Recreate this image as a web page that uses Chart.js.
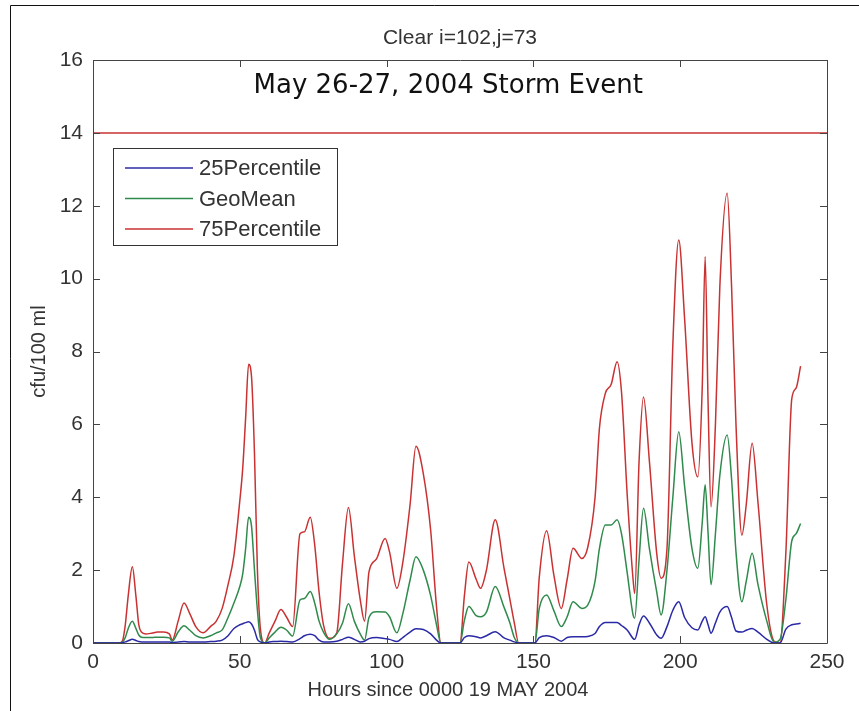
<!DOCTYPE html>
<html>
<head>
<meta charset="utf-8">
<script src="https://cdn.jsdelivr.net/npm/chart.js@4"></script>
<style>
  html, body { margin: 0; padding: 0; background: #fff; }
  canvas { display: block; }
</style>
</head>
<body>
<canvas id="myChart" width="859" height="711"></canvas>
<script>
// hours since 0000 19 MAY 2004
const hours = [
  0, 9, 10, 11, 12, 13.4, 14.6, 15.6, 16.5, 18,
  20, 22, 24, 26, 27, 29, 31, 33, 35, 37.5,
  40, 42, 44, 46, 48, 50, 51, 52, 53, 54,
  55, 56, 57, 58.5, 60, 62, 64, 66, 68, 70.5,
  72, 74, 75.5, 77, 78.5, 80.5, 83, 85, 87, 89,
  91, 92.5, 94, 96.5, 99.5, 101, 103.5, 105.5, 108, 110,
  112.5, 115, 117, 118.5, 125, 126.5, 128, 130.5, 132, 134,
  137, 140, 142, 143.5, 145, 150.5, 152, 154.5, 157, 159.5,
  161.5, 163.5, 166.5, 168.5, 171, 172.5, 174.5, 176.5, 178.5, 180,
  182, 184, 184.5, 186, 187.5, 189.5, 192, 193.5, 195.5, 197.5,
  199.5, 201.5, 204, 206, 207.5, 208.5, 209.5, 210.5, 212, 213.5,
  216, 217.5, 219, 221, 222.5, 224.5, 226.5, 229.5, 232, 234,
  236, 238, 239.5, 241
];

const p25 = [
  0, 0, 0.01, 0.03, 0.06, 0.1, 0.07, 0.04, 0.03, 0.03,
  0.03, 0.03, 0.03, 0.03, 0.01, 0.03, 0.04, 0.03, 0.03, 0.03,
  0.04, 0.05, 0.08, 0.2, 0.4, 0.5, 0.53, 0.56, 0.58, 0.52,
  0.35, 0.1, 0.03, 0, 0.03, 0.04, 0.05, 0.04, 0.03, 0.12,
  0.2, 0.24, 0.2, 0.08, 0.03, 0.03, 0.05, 0.1, 0.16, 0.1,
  0.03, 0.05, 0.12, 0.15, 0.12, 0.1, 0.04, 0.15, 0.3, 0.39,
  0.37, 0.25, 0.08, 0, 0, 0.15, 0.2, 0.17, 0.14, 0.2,
  0.31, 0.14, 0.08, 0.03, 0, 0, 0.15, 0.2, 0.15, 0.05,
  0.15, 0.17, 0.17, 0.18, 0.26, 0.45, 0.56, 0.56, 0.56, 0.48,
  0.35, 0.12, 0.1, 0.5, 0.74, 0.55, 0.22, 0.13, 0.45, 0.9,
  1.13, 0.7, 0.42, 0.36, 0.6, 0.72, 0.5, 0.27, 0.55, 0.85,
  1.0, 0.7, 0.33, 0.3, 0.35, 0.4, 0.3, 0.1, 0, 0,
  0.38, 0.5, 0.52, 0.54
];

const geoMean = [
  0, 0, 0.02, 0.15, 0.4, 0.6, 0.4, 0.22, 0.16, 0.15,
  0.15, 0.16, 0.16, 0.14, 0.05, 0.3, 0.47, 0.35, 0.2, 0.14,
  0.2, 0.28, 0.36, 0.7, 1.1, 1.55, 1.9, 2.6, 3.45, 3.2,
  2.0, 0.9, 0.15, 0, 0.14, 0.3, 0.43, 0.35, 0.19, 1.18,
  1.22, 1.41, 1.1, 0.6, 0.3, 0.1, 0.25, 0.55, 1.08, 0.6,
  0.25, 0.08, 0.7, 0.86, 0.85, 0.72, 0.28, 0.8, 1.73, 2.37,
  2.0, 1.3, 0.5, 0, 0, 0.62, 1.0, 0.75, 0.72, 0.85,
  1.55, 0.98, 0.55, 0.15, 0, 0, 0.95, 1.32, 0.88, 0.45,
  0.72, 1.13, 0.95, 1.04, 1.7, 2.6, 3.24, 3.24, 3.38, 3.0,
  1.9, 0.75, 0.68, 2.3, 3.7, 2.6, 1.4, 0.77, 2.0, 4.0,
  5.8, 4.3, 2.6, 2.05, 3.3, 4.34, 3.0, 1.6, 3.0, 4.6,
  5.71, 4.5, 2.5, 1.13, 1.7, 2.46, 1.6, 0.6, 0.02, 0.1,
  1.2, 2.8, 3.0, 3.28
];

const p75 = [
  0, 0, 0.05, 0.5, 1.3, 2.09, 1.3, 0.5, 0.3, 0.25,
  0.27, 0.3, 0.3, 0.25, 0.08, 0.6, 1.1, 0.8, 0.45, 0.28,
  0.45, 0.6, 0.95, 1.6, 2.4, 3.9, 4.8, 6.2, 7.65, 7.3,
  5.2, 2.0, 0.4, 0, 0.27, 0.6, 0.92, 0.7, 0.45, 3.0,
  3.05, 3.45, 2.7, 1.4, 0.5, 0.13, 0.27, 2.2, 3.72, 2.4,
  1.2, 0.6, 1.95, 2.3, 2.87, 2.5, 1.5, 2.2, 3.8, 5.4,
  4.65, 3.1, 1.0, 0, 0, 1.3, 2.22, 1.75, 1.5, 2.0,
  3.38, 2.05, 1.2, 0.55, 0, 0, 1.8, 3.08, 1.85, 0.95,
  1.75, 2.6, 2.32, 2.62, 4.0, 5.9, 6.85, 7.1, 7.72, 6.9,
  4.0, 1.7, 1.36, 5.0, 6.75, 5.0, 2.46, 1.78, 2.6, 8.2,
  11.06, 8.9, 5.5, 4.56, 7.0, 10.6, 6.58, 3.74, 6.0, 9.78,
  12.34, 9.78, 6.0, 2.96, 3.8, 5.48, 3.85, 1.05, 0.05, 0,
  2.5, 6.7, 7.0, 7.6
];

// standard line across the plot
const limitHours = [0, 250];
const limitValue = [14, 14];

const xTicks = [0, 50, 100, 150, 200, 250];
const yTicks = [0, 2, 4, 6, 8, 10, 12, 14, 16];

const seriesNames = ['25Percentile', 'GeoMean', '75Percentile'];
const seriesColors = ['#2a2aa6', '#2f8a4c', '#c93232'];

const textFont = '"Liberation Sans", Arial, sans-serif';

function pairs(xs, ys) {
  return xs.map((h, i) => ({ x: h, y: ys[i] }));
}

// inward ticks, box, legend, titles and the in-plot label
const matlabAxes = {
  id: 'matlabAxes',
  afterDatasetsDraw(chart) {
    const { ctx, chartArea: a, scales } = chart;
    const x = scales.x, y = scales.y;
    ctx.save();

    // figure frame
    ctx.strokeStyle = '#111';
    ctx.lineWidth = 1;
    ctx.beginPath();
    ctx.moveTo(10.5, 711);
    ctx.lineTo(10.5, 5.5);
    ctx.lineTo(859, 5.5);
    ctx.stroke();

    // axes box
    ctx.strokeStyle = '#444';
    ctx.beginPath();
    ctx.rect(Math.round(a.left) + 0.5, Math.round(a.top) + 0.5,
             Math.round(a.width), Math.round(a.height));
    ctx.stroke();

    ctx.beginPath();
    xTicks.forEach(v => {
      const px = Math.round(x.getPixelForValue(v)) + 0.5;
      ctx.moveTo(px, a.bottom); ctx.lineTo(px, a.bottom - 7);
      ctx.moveTo(px, a.top); ctx.lineTo(px, a.top + 7);
    });
    yTicks.forEach(v => {
      const py = Math.round(y.getPixelForValue(v)) + 0.5;
      ctx.moveTo(a.left, py); ctx.lineTo(a.left + 7, py);
      ctx.moveTo(a.right, py); ctx.lineTo(a.right - 7, py);
    });
    ctx.stroke();

    // title above the axes and x label
    ctx.fillStyle = '#333';
    ctx.textAlign = 'center';
    ctx.textBaseline = 'middle';
    ctx.font = '21px ' + textFont;
    ctx.fillText('Clear i=102,j=73', (a.left + a.right) / 2, 38);
    ctx.font = '20px ' + textFont;
    ctx.fillText('Hours since 0000 19 MAY 2004', (a.left + a.right) / 2 - 12, 690);

    // label inside the plot
    ctx.fillStyle = '#111';
    ctx.font = '26px "DejaVu Sans", sans-serif';
    ctx.textBaseline = 'alphabetic';
    ctx.fillText('May 26-27, 2004 Storm Event', x.getPixelForValue(121), y.getPixelForValue(15.1));

    // legend
    const lx = 113.5, ly = 148.5, lw = 224, lh = 97;
    ctx.fillStyle = '#fff';
    ctx.fillRect(lx, ly, lw, lh);
    ctx.strokeStyle = '#333';
    ctx.strokeRect(lx, ly, lw, lh);
    ctx.font = '22px ' + textFont;
    ctx.textAlign = 'left';
    ctx.textBaseline = 'middle';
    seriesNames.forEach((name, i) => {
      const ry = 168 + i * 30.5;
      ctx.strokeStyle = seriesColors[i];
      ctx.lineWidth = 1.5;
      ctx.beginPath();
      ctx.moveTo(125, ry); ctx.lineTo(193, ry);
      ctx.stroke();
      ctx.fillStyle = '#333';
      ctx.fillText(name, 199, ry + 1);
    });
    ctx.restore();
  }
};

const ctx = document.getElementById('myChart').getContext('2d');
new Chart(ctx, {
  type: 'line',
  data: {
    datasets: [
      { label: seriesNames[0], data: pairs(hours, p25), borderColor: seriesColors[0] },
      { label: seriesNames[1], data: pairs(hours, geoMean), borderColor: seriesColors[1] },
      { label: seriesNames[2], data: pairs(hours, p75), borderColor: seriesColors[2] },
      { label: 'limit', data: pairs(limitHours, limitValue), borderColor: seriesColors[2] }
    ]
  },
  options: {
    responsive: false,
    animation: false,
    layout: { padding: { left: 0, right: 32, top: 60, bottom: 0 } },
    elements: {
      line: { borderWidth: 1.5, cubicInterpolationMode: 'monotone', fill: false },
      point: { radius: 0 }
    },
    datasets: { line: { clip: 3 } },
    scales: {
      x: {
        type: 'linear',
        min: 0, max: 250,
        afterFit: s => { s.height = 68; },
        afterBuildTicks: s => { s.ticks = xTicks.map(v => ({ value: v })); },
        grid: { display: false, drawTicks: false },
        border: { display: false },
        ticks: { color: '#333', font: { family: textFont, size: 21 }, padding: 7, maxRotation: 0 }
      },
      y: {
        min: 0, max: 16,
        afterFit: s => { s.width = 93; },
        afterBuildTicks: s => { s.ticks = yTicks.map(v => ({ value: v })); },
        grid: { display: false, drawTicks: false },
        border: { display: false },
        ticks: { color: '#333', font: { family: textFont, size: 21 }, padding: 10 },
        title: {
          display: true, text: 'cfu/100 ml', color: '#333',
          font: { family: textFont, size: 20 }, padding: { top: 27, bottom: 0 }
        }
      }
    },
    plugins: {
      legend: { display: false },
      tooltip: { enabled: false },
      title: { display: false }
    }
  },
  plugins: [matlabAxes]
});
</script>
</body>
</html>
